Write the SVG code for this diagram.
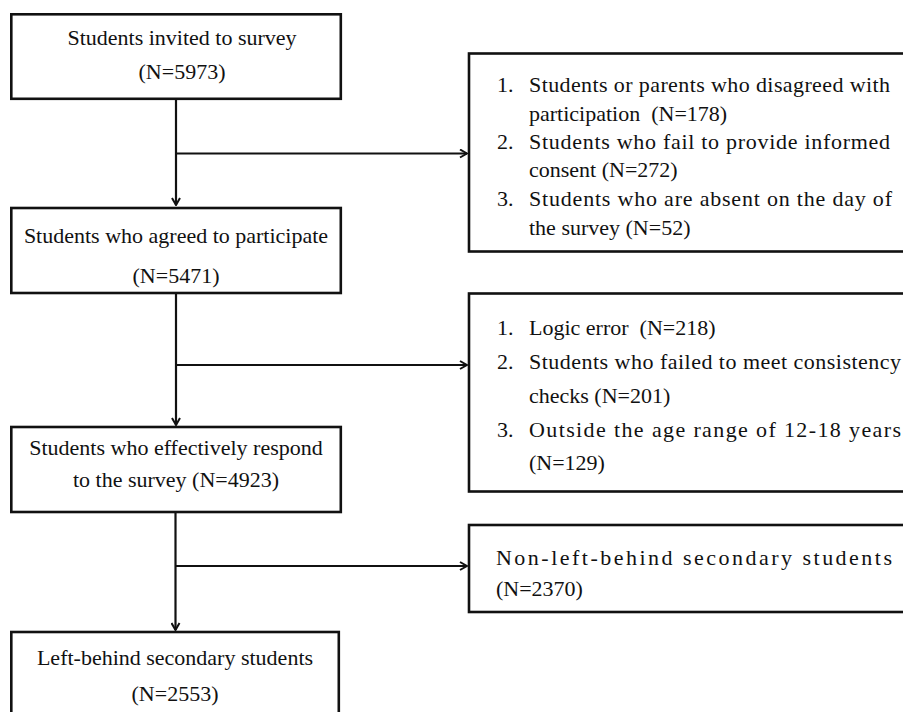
<svg xmlns="http://www.w3.org/2000/svg" width="903" height="712" viewBox="0 0 903 712">
<defs>
<style>
.box{fill:#fff;stroke:#111;stroke-width:2.6}
.ln{fill:none;stroke:#111;stroke-width:2.2}
.t{font-family:'Liberation Serif',Tinos,'Times New Roman',serif;font-size:22px;fill:#111}
.c{text-anchor:middle}
</style>
<marker id="arr" viewBox="0 0 10 10" refX="9" refY="5" markerWidth="10" markerHeight="10" markerUnits="userSpaceOnUse" orient="auto">
<path d="M2,1 L9,5 L2,9" fill="none" stroke="#111" stroke-width="2"/>
</marker>
</defs>
<rect width="903" height="712" fill="#fff"/>

<g id="connectors">
<line class="ln" x1="176" y1="99" x2="176" y2="205" marker-end="url(#arr)"/>
<line class="ln" x1="176" y1="153.5" x2="467" y2="153.5" marker-end="url(#arr)"/>
<line class="ln" x1="176" y1="293" x2="176" y2="425" marker-end="url(#arr)"/>
<line class="ln" x1="176" y1="365" x2="467" y2="365" marker-end="url(#arr)"/>
<line class="ln" x1="175.5" y1="512" x2="175.5" y2="630" marker-end="url(#arr)"/>
<line class="ln" x1="175.5" y1="566" x2="467" y2="566" marker-end="url(#arr)"/>
</g>

<g class="t" font-family="Liberation Serif, Tinos, Times New Roman, serif" font-size="22">
<g id="n1">
<rect class="box" x="11.3" y="14.3" width="329.5" height="84.5"/>
<text class="c" x="182" y="45">Students invited to survey</text>
<text class="c" x="182" y="79">(N=5973)</text>
</g>

<g id="n2">
<rect class="box" x="11.3" y="208" width="329.5" height="85"/>
<text class="c" x="176" y="243">Students who agreed to participate</text>
<text class="c" x="176" y="283">(N=5471)</text>
</g>

<g id="n3">
<rect class="box" x="11.3" y="427" width="329.5" height="85"/>
<text class="c" x="176" y="455">Students who effectively respond</text>
<text class="c" x="176" y="487">to the survey (N=4923)</text>
</g>

<g id="n4">
<rect class="box" x="11.3" y="632" width="327.5" height="90"/>
<text class="c" x="175" y="665">Left-behind secondary students</text>
<text class="c" x="175" y="701">(N=2553)</text>
</g>

<g id="e1">
<rect class="box" x="469" y="53.5" width="445" height="198"/>
<text x="497" y="92">1.</text>
<text x="529" y="92" textLength="361" lengthAdjust="spacing">Students or parents who disagreed with</text>
<text x="529" y="121" xml:space="preserve">participation  (N=178)</text>
<text x="497" y="149">2.</text>
<text x="529" y="149" textLength="361" lengthAdjust="spacing">Students who fail to provide informed</text>
<text x="529" y="177">consent (N=272)</text>
<text x="497" y="206">3.</text>
<text x="529" y="206" textLength="363" lengthAdjust="spacing">Students who are absent on the day of</text>
<text x="529" y="235">the survey (N=52)</text>
</g>

<g id="e2">
<rect class="box" x="469" y="293.5" width="445" height="198"/>
<text x="497" y="335">1.</text>
<text x="529" y="335" xml:space="preserve">Logic error  (N=218)</text>
<text x="497" y="369">2.</text>
<text x="529" y="369" textLength="372" lengthAdjust="spacing">Students who failed to meet consistency</text>
<text x="529" y="403">checks (N=201)</text>
<text x="497" y="437">3.</text>
<text x="529" y="437" textLength="372" lengthAdjust="spacing">Outside the age range of 12-18 years</text>
<text x="529" y="470">(N=129)</text>
</g>

<g id="e3">
<rect class="box" x="469" y="525" width="445" height="87"/>
<text x="496" y="565" textLength="396" lengthAdjust="spacing">Non-left-behind secondary students</text>
<text x="496" y="596">(N=2370)</text>
</g>
</g>
</svg>
